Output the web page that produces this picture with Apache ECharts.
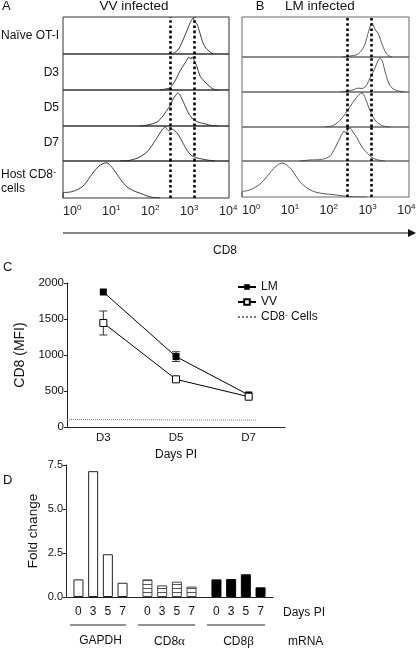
<!DOCTYPE html>
<html><head><meta charset="utf-8">
<script src="https://cdn.jsdelivr.net/npm/echarts@6/dist/echarts.min.js"></script>
<style>html,body{margin:0;padding:0;background:#fff}#c{width:416px;height:649px}</style>
</head><body><div id="c"></div>
<script>
const FONT = '"Liberation Sans", Arial, Helvetica, sans-serif';

// ---------- Panel A / B : CD8 histograms (x = log10 CD8, y = relative count) ----------
const histRowLabels = ['Naïve OT-I', 'D3', 'D5', 'D7', 'Host CD8- cells'];
const vvNaive = [[2.798,0],[2.948,0.11],[3.077,0.38],[3.205,0.70],[3.281,0.89],[3.334,0.97],[3.385,0.86],[3.436,0.81],[3.487,0.65],[3.563,0.38],[3.641,0.19],[3.743,0.08],[3.845,0]];
const vvD3 = [[2.487,0],[2.641,0.03],[2.743,0.06],[2.872,0.25],[2.999,0.53],[3.128,0.75],[3.205,0.89],[3.230,0.92],[3.281,0.86],[3.307,0.92],[3.359,0.83],[3.436,0.64],[3.512,0.39],[3.615,0.25],[3.718,0.14],[3.845,0.03],[3.974,0]];
const vvD5 = [[1.974,0],[2.179,0.03],[2.410,0.11],[2.564,0.28],[2.666,0.44],[2.743,0.56],[2.821,0.75],[2.897,0.86],[2.948,0.92],[2.999,0.86],[3.077,0.69],[3.154,0.5],[3.230,0.33],[3.334,0.19],[3.461,0.11],[3.641,0.06],[3.820,0.01],[3.974,0]];
const vvD7 = [[1.461,0],[1.666,0.01],[1.923,0.09],[2.154,0.26],[2.308,0.49],[2.435,0.71],[2.539,0.89],[2.615,0.97],[2.666,0.91],[2.717,0.86],[2.795,0.91],[2.872,0.86],[2.948,0.77],[3.077,0.51],[3.179,0.31],[3.281,0.17],[3.436,0.09],[3.692,0.03],[3.897,0]];
const vvHost = [[0,0],[0,0.135],[0.180,0.16],[0.359,0.22],[0.513,0.32],[0.641,0.49],[0.769,0.68],[0.897,0.84],[1.026,0.93],[1.128,0.95],[1.231,0.86],[1.359,0.68],[1.487,0.49],[1.641,0.30],[1.820,0.19],[2.026,0.11],[2.230,0.03],[2.487,0]];
const lmNaive = [[2.577,0],[2.784,0.025],[2.963,0.06],[3.092,0.175],[3.170,0.325],[3.222,0.5],[3.273,0.675],[3.325,0.825],[3.351,0.85],[3.402,0.75],[3.454,0.65],[3.505,0.6],[3.556,0.475],[3.608,0.325],[3.685,0.15],[3.763,0.04],[3.866,0]];
const lmD3 = [[2.525,0],[2.732,0.03],[2.861,0.06],[2.989,0.11],[3.092,0.1],[3.196,0.17],[3.273,0.34],[3.351,0.51],[3.428,0.69],[3.480,0.83],[3.530,0.94],[3.556,0.97],[3.608,0.91],[3.659,0.71],[3.711,0.49],[3.789,0.23],[3.892,0.09],[4.021,0.03],[4.201,0]];
const lmD5 = [[2.139,0],[2.320,0.03],[2.448,0.11],[2.603,0.29],[2.732,0.49],[2.861,0.71],[2.989,0.89],[3.067,0.97],[3.118,0.96],[3.196,0.77],[3.273,0.54],[3.376,0.29],[3.480,0.13],[3.634,0.03],[3.814,0]];
const lmD7 = [[1.495,0],[1.753,0.03],[2.010,0.04],[2.191,0.09],[2.294,0.18],[2.397,0.38],[2.500,0.62],[2.577,0.79],[2.629,0.88],[2.680,0.82],[2.732,0.94],[2.784,0.97],[2.861,0.85],[2.963,0.68],[3.092,0.41],[3.222,0.24],[3.351,0.1],[3.505,0.03],[3.685,0]];
const lmHost = [[0,0],[0,0.14],[0.155,0.18],[0.309,0.25],[0.464,0.36],[0.593,0.5],[0.722,0.67],[0.850,0.83],[0.979,0.93],[1.057,0.94],[1.134,0.90],[1.263,0.78],[1.391,0.58],[1.520,0.39],[1.675,0.25],[1.856,0.15],[2.062,0.1],[2.397,0.06],[2.784,0.01],[3.228,0]];
const gateA = [555, 2285];   // CD8 intensity of the dotted gate lines, VV panel
const gateB = [500, 2075];   // CD8 intensity of the dotted gate lines, LM panel
const logRangeA = [0, 4.256];
const logRangeB = [0, 4.304];

// ---------- Panel C : CD8 MFI ----------
const mfiDays = ['D3', 'D5', 'D7'];
const lmMFI = [1875, 978, 445];
const vvMFI = [1445, 662, 421];
const vvErr = [[0, 1278, 1611]];
const lmErr = [[1, 910, 1045]];
const cd8NegLine = [[0, 105], [2.6, 95]];
const mfiTicks = [0, 500, 1000, 1500, 2000];

// ---------- Panel D : mRNA fold change ----------
const mRNA = ['GAPDH', 'CD8α', 'CD8β'];
const daysPI = ['0', '3', '5', '7'];
const gapdhFold = [1.0, 7.15, 2.43, 0.81];
const cd8aFold = [1.0, 0.66, 0.87, 0.59];
const cd8bFold = [1.0, 1.02, 1.29, 0.55];
const foldTicks = [0, 2.5, 5.0, 7.5];

// ---------- layout ----------
const rowsA = [17, 54, 90, 126, 161, 198];
const rowsB = [17, 57, 92, 127, 161, 197];
const panelA = {left: 63, width: 166, border: '#333', line: '#222'};
const panelB = {left: 242, width: 167, border: '#666', line: '#444'};

const stripe = document.createElement('canvas');
stripe.width = 4; stripe.height = 4;
(function () {
  const g = stripe.getContext('2d');
  g.fillStyle = '#fff'; g.fillRect(0, 0, 4, 4);
  g.fillStyle = '#555'; g.fillRect(0, 0, 4, 1);
})();

const grid = [], xAxis = [], yAxis = [], series = [];
const supRich = {
  b: {fontSize: 12.5, color: '#222', fontFamily: FONT, lineHeight: 15},
  s: {fontSize: 8, color: '#222', fontFamily: FONT, verticalAlign: 'top', lineHeight: 9}
};

function addHist(panel, rows, curves, gates, range) {
  for (let i = 0; i < 5; i++) {
    const g = grid.length;
    grid.push({left: panel.left, width: panel.width, top: rows[i], height: rows[i + 1] - rows[i],
      show: true, borderColor: panel.border, borderWidth: 1, backgroundColor: 'transparent',
      outerBoundsMode: 'none', containLabel: false});
    const last = i === 4;
    xAxis.push({gridIndex: g, type: 'value', min: range[0], max: range[1], interval: 1,
      axisLine: {show: false}, axisTick: {show: false}, splitLine: {show: false},
      axisLabel: last ? {show: true, margin: 6, align: 'left', showMaxLabel: false,
        formatter: v => Number.isInteger(v) ? '{b|10}{s|' + v + '}' : '', rich: supRich} : {show: false}});
    yAxis.push({gridIndex: g, type: 'value', min: 0, max: 1, show: false});
    series.push({type: 'line', xAxisIndex: g, yAxisIndex: g, data: curves[i], symbol: 'none', smooth: 0.25,
      lineStyle: {color: panel.line, width: 0.9}, silent: true,
      markLine: {silent: true, symbol: ['none', 'none'], label: {show: false},
        lineStyle: {type: 'dotted', color: '#000', width: 2.6, cap: 'butt'},
        data: gates.map(v => ({xAxis: Math.log10(v)}))}});
  }
}
addHist(panelA, rowsA, [vvNaive, vvD3, vvD5, vvD7, vvHost], gateA, logRangeA);
addHist(panelB, rowsB, [lmNaive, lmD3, lmD5, lmD7, lmHost], gateB, logRangeB);

// Panel C
const gC = grid.length;
grid.push({left: 67, top: 283, width: 218, height: 144, outerBoundsMode: 'none', containLabel: false});
const xC = xAxis.length;
xAxis.push({gridIndex: gC, type: 'category', data: mfiDays, boundaryGap: true,
  axisLine: {lineStyle: {color: '#222', width: 1}},
  axisTick: {alignWithLabel: true, length: 4, lineStyle: {color: '#222'}},
  axisLabel: {fontSize: 11.5, color: '#111', margin: 5},
  name: 'Days PI', nameLocation: 'middle', nameGap: 22, nameTextStyle: {fontSize: 12, color: '#111'}});
const xC2 = xAxis.length;
xAxis.push({gridIndex: gC, type: 'value', min: 0, max: 3, show: false});
const yC = yAxis.length;
yAxis.push({gridIndex: gC, type: 'value', min: mfiTicks[0], max: mfiTicks[mfiTicks.length - 1], interval: 500,
  axisLine: {show: true, lineStyle: {color: '#222'}}, axisTick: {show: true, length: 3, lineStyle: {color: '#222'}},
  splitLine: {show: false}, axisLabel: {fontSize: 11.5, color: '#111', margin: 3, formatter: v => String(v)},
  name: 'CD8 (MFI)', nameLocation: 'middle', nameGap: 32, nameTextStyle: {fontSize: 14, color: '#111'}});

function errRender(params, api) {
  const x = api.value(0), lo = api.value(1), hi = api.value(2);
  const p1 = api.coord([x, lo]), p2 = api.coord([x, hi]);
  const w = 4, st = {stroke: '#333', lineWidth: 1};
  return {type: 'group', children: [
    {type: 'line', shape: {x1: p1[0], y1: p1[1], x2: p2[0], y2: p2[1]}, style: st},
    {type: 'line', shape: {x1: p1[0] - w, y1: p1[1], x2: p1[0] + w, y2: p1[1]}, style: st},
    {type: 'line', shape: {x1: p2[0] - w, y1: p2[1], x2: p2[0] + w, y2: p2[1]}, style: st}
  ]};
}
series.push({type: 'custom', xAxisIndex: xC, yAxisIndex: yC, data: vvErr.concat(lmErr), renderItem: errRender,
  encode: {x: 0, y: [1, 2]}, z: 1, silent: true});
series.push({name: 'LM', type: 'line', xAxisIndex: xC, yAxisIndex: yC, data: lmMFI, symbol: 'rect', symbolSize: 7,
  itemStyle: {color: '#000'}, lineStyle: {color: '#000', width: 1}, z: 3});
series.push({name: 'VV', type: 'line', xAxisIndex: xC, yAxisIndex: yC, data: vvMFI, symbol: 'rect', symbolSize: 7,
  itemStyle: {color: '#fff', borderColor: '#000', borderWidth: 1}, lineStyle: {color: '#000', width: 1}, z: 3});
series.push({name: 'CD8- Cells', type: 'line', xAxisIndex: xC2, yAxisIndex: yC, data: cd8NegLine, symbol: 'none',
  lineStyle: {type: 'dotted', color: '#777', width: 1}, z: 2});

// Panel D
const gD = grid.length;
grid.push({left: 66, top: 465, width: 207, height: 132, outerBoundsMode: 'none', containLabel: false});
const xD = xAxis.length;
xAxis.push({gridIndex: gD, type: 'category', data: mRNA, boundaryGap: true,
  axisLine: {lineStyle: {color: '#222', width: 1}},
  axisTick: {alignWithLabel: true, length: 4, lineStyle: {color: '#222'}},
  axisLabel: {margin: 38, fontSize: 12, color: '#111',
    formatter: v => v.replace(/[αβ]/, m => '{g|' + m + '}'),
    rich: {g: {fontFamily: '"Liberation Serif", "DejaVu Serif", serif', fontSize: 13, color: '#111'}}}});
const yD = yAxis.length;
yAxis.push({gridIndex: gD, type: 'value', min: foldTicks[0], max: foldTicks[foldTicks.length - 1], interval: 2.5,
  axisLine: {show: true, lineStyle: {color: '#222'}}, axisTick: {show: true, length: 3, lineStyle: {color: '#222'}},
  splitLine: {show: false}, axisLabel: {fontSize: 11, color: '#111', margin: 3, formatter: v => v.toFixed(1)},
  name: 'Fold change', nameLocation: 'middle', nameGap: 26, nameTextStyle: {fontSize: 13.5, color: '#111'}});
const barStyles = [
  {color: '#fff', borderColor: '#222', borderWidth: 1},
  {color: {image: stripe, repeat: 'repeat'}, borderColor: '#444', borderWidth: 1},
  {color: '#000', borderColor: '#000', borderWidth: 1}
];
daysPI.forEach((d, i) => {
  series.push({name: d, type: 'bar', xAxisIndex: xD, yAxisIndex: yD, barWidth: 10, barGap: '47%',
    data: [gapdhFold[i], cd8aFold[i], cd8bFold[i]].map((v, k) => ({value: v, itemStyle: barStyles[k]})),
    label: {show: true, position: 'bottom', distance: 9, fontSize: 12, color: '#111', formatter: p => p.seriesName},
    silent: true});
});

const T = (x, y, text, extra) => ({type: 'text', x, y, silent: true,
  style: Object.assign({text, fontSize: 13, fill: '#111', fontFamily: FONT, align: 'left', verticalAlign: 'middle'}, extra || {})});
const L = (x1, y1, x2, y2, w, c) => ({type: 'line', silent: true, shape: {x1, y1, x2, y2}, style: {stroke: c || '#111', lineWidth: w || 1}});

const rowCenters = [36, 73, 108, 143];
const graphics = [
  T(2, 6, 'A'), T(134, 6, 'VV infected', {align: 'center', fontSize: 13.5}),
  T(260, 6, 'B', {align: 'center'}), T(285, 6, 'LM infected', {fontSize: 13.5}),
  T(225, 251, 'CD8', {align: 'center', fontSize: 12}),
  L(63, 233, 409, 233, 1, '#111'),
  {type: 'polygon', silent: true, shape: {points: [[408, 229], [416, 233], [408, 237]]}, style: {fill: '#111'}},
  T(3, 267, 'C'), T(3, 480, 'D'),
  T(283, 613, 'Days PI', {fontSize: 12}), T(288, 642, 'mRNA', {fontSize: 12}),
  L(70, 625, 126, 625, 1, '#222'), L(138, 625, 195, 625, 1, '#222'), L(207, 625, 265, 625, 1, '#222')
];
histRowLabels.slice(0, 4).forEach((t, i) => graphics.push(T(59, rowCenters[i], t, {align: 'right', fontSize: 12})));
graphics.push({type: 'text', x: 1, y: 182, silent: true, style: {
  text: '{a|Host CD8}{s|-}\n{a|cells}', align: 'left', verticalAlign: 'middle', fill: '#111',
  rich: {a: {fontSize: 12, fontFamily: FONT, fill: '#111', lineHeight: 14},
         s: {fontSize: 9, fontFamily: FONT, fill: '#111', verticalAlign: 'top', lineHeight: 9}}}});

const option = {
  animation: false,
  backgroundColor: '#fff',
  textStyle: {fontFamily: FONT},
  grid, xAxis, yAxis, series,
  legend: {data: ['LM', 'VV', {name: 'CD8- Cells', itemStyle: {opacity: 0}}], orient: 'vertical', left: 232, top: 276,
    itemWidth: 18, itemHeight: 7, itemGap: 3, selectedMode: false,
    textStyle: {fontSize: 12, color: '#111', fontFamily: FONT,
      rich: {a: {fontSize: 12, color: '#111', fontFamily: FONT}, s: {fontSize: 8, color: '#111', verticalAlign: 'top', lineHeight: 8}}},
    formatter: n => n === 'CD8- Cells' ? '{a|CD8}{s|-}{a| Cells}' : n},
  graphic: graphics
};
const chart = echarts.init(document.getElementById('c'), null, {renderer: 'canvas'});
chart.setOption(option);
</script></body></html>
